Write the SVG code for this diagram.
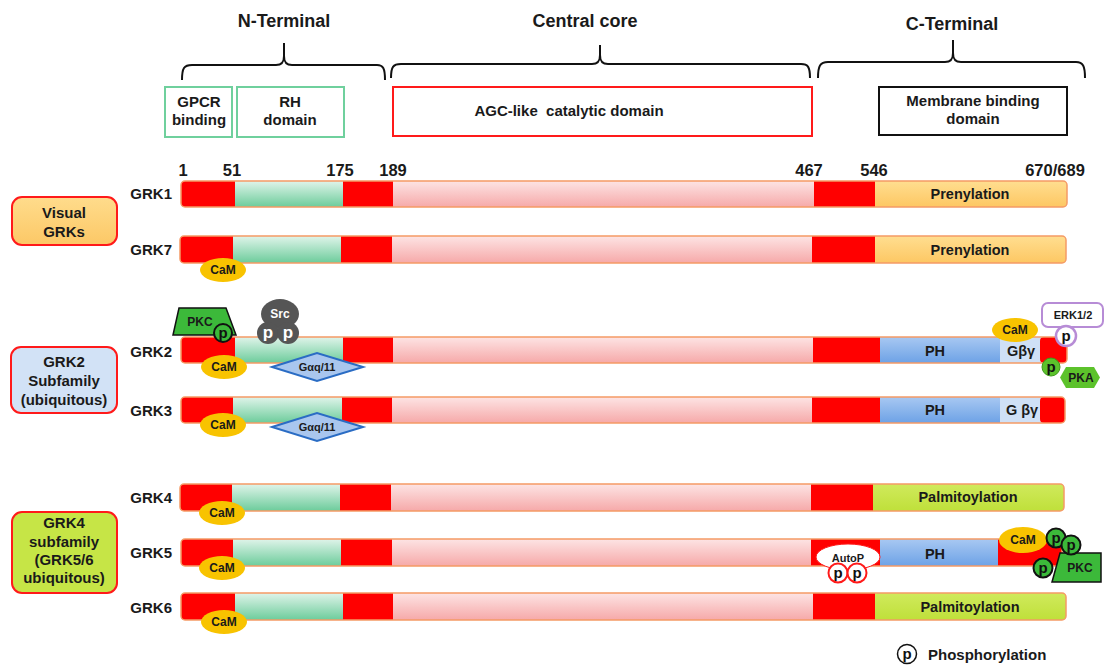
<svg xmlns="http://www.w3.org/2000/svg" width="1104" height="665" viewBox="0 0 1104 665">
<defs>
<linearGradient id="gPink" x1="0" y1="0" x2="0" y2="1"><stop offset="0" stop-color="#fde4e4"/><stop offset="1" stop-color="#f6a9a9"/></linearGradient>
<linearGradient id="gGreen" x1="0" y1="0" x2="0" y2="1"><stop offset="0" stop-color="#e0f4ea"/><stop offset="1" stop-color="#6ccc9b"/></linearGradient>
<linearGradient id="gYellow" x1="0" y1="0" x2="0" y2="1"><stop offset="0" stop-color="#ffde90"/><stop offset="1" stop-color="#fdc763"/></linearGradient>
<linearGradient id="gLime" x1="0" y1="0" x2="0" y2="1"><stop offset="0" stop-color="#d0ea5c"/><stop offset="1" stop-color="#bfe03a"/></linearGradient>
<linearGradient id="gPH" x1="0" y1="0" x2="0" y2="1"><stop offset="0" stop-color="#a8c8f2"/><stop offset="1" stop-color="#6da2e6"/></linearGradient>
<linearGradient id="gVis" x1="0" y1="0" x2="0" y2="1"><stop offset="0" stop-color="#ffdc8c"/><stop offset="1" stop-color="#fcc866"/></linearGradient>
<style>
text{font-family:"Liberation Sans",Arial,sans-serif;font-weight:bold;fill:#1a1a1a}
.hdr{font-size:18px;text-anchor:middle}
.num{font-size:16.5px;text-anchor:middle}
.box2{font-size:15px;text-anchor:middle}
.lbl{font-size:15px;text-anchor:end}
.fam{font-size:15px;text-anchor:middle}
.seg{font-size:14.5px;text-anchor:middle}
.sm{font-size:12px;text-anchor:middle}
.brace{fill:none;stroke:#111;stroke-width:2}
.red{fill:#ff0000}
.pink{fill:url(#gPink)}
.grn{fill:url(#gGreen)}
.yel{fill:url(#gYellow)}
.lime{fill:url(#gLime)}
.ph{fill:url(#gPH)}
.gbg{fill:#cfe0f6}
.outl{fill:none;stroke:#f59b66;stroke-width:1.5}
.cam{fill:#f8c300}
.pg{fill:#3cb93a;stroke:#111;stroke-width:2}
.pt{font-size:15px;text-anchor:middle;fill:#111}
.famb{stroke:#ff1a1a;stroke-width:2}
</style>
</defs>
<rect width="1104" height="665" fill="#fff"/>

<g id="headers">
<text class="hdr" x="284" y="27">N-Terminal</text>
<text class="hdr" x="585" y="27">Central core</text>
<text class="hdr" x="952" y="30">C-Terminal</text>
</g>

<g id="connectors">
<path class="brace" d="M182,80 C182,68 184,65 192,65 L276,65 C282,65 284,62 284,56 L284,43 M284,56 C284,62 286,65 292,65 L377,65 C383,65 385,68 385,80"/>
<path class="brace" d="M391,78 C391,67 393,64 401,64 L592,64 C598,64 600,61 600,55 L600,45 M600,55 C600,61 602,64 608,64 L801,64 C808,64 810,67 810,78"/>
<path class="brace" d="M818,78 C818,66 820,62 828,62 L945,62 C951,62 953,59 953,53 L953,40 M953,53 C953,59 955,62 961,62 L1076,62 C1083,62 1085,66 1085,78"/>
</g>

<g id="domain-boxes">
<g id="gpcr-box"><rect x="165" y="87" width="67" height="50" fill="#fff" stroke="#6fd09d" stroke-width="2"/><text class="box2" x="199" y="107">GPCR</text><text class="box2" x="199" y="125">binding</text></g>
<g id="rh-box"><rect x="237" y="87" width="107" height="50" fill="#fff" stroke="#6fd09d" stroke-width="2"/><text class="box2" x="290" y="107">RH</text><text class="box2" x="290" y="125">domain</text></g>
<g id="agc-box"><rect x="393" y="87" width="419" height="49" fill="#fff" stroke="#ff1a1a" stroke-width="2"/><text class="box2" x="569" y="116" xml:space="preserve">AGC-like  catalytic domain</text></g>
<g id="mem-box"><rect x="879" y="87" width="188" height="48" fill="#fff" stroke="#111" stroke-width="2"/><text class="box2" x="973" y="106">Membrane binding</text><text class="box2" x="973" y="124">domain</text></g>
</g>

<g id="numbers">
<text class="num" x="183" y="176">1</text>
<text class="num" x="232" y="176">51</text>
<text class="num" x="340" y="176">175</text>
<text class="num" x="393" y="176">189</text>
<text class="num" x="809" y="176">467</text>
<text class="num" x="874" y="176">546</text>
<text class="num" x="1055" y="176">670/689</text>
</g>

<g id="family-visual"><rect class="famb" x="12" y="197" width="105" height="48" rx="10" fill="url(#gVis)"/><text class="fam" x="64" y="218">Visual</text><text class="fam" x="64" y="237">GRKs</text></g>
<g id="family-grk2"><rect class="famb" x="11" y="347" width="106" height="66" rx="10" fill="#d2e2f6"/><text class="fam" x="64" y="367">GRK2</text><text class="fam" x="64" y="386">Subfamily</text><text class="fam" x="64" y="405">(ubiquitous)</text></g>
<g id="family-grk4"><rect class="famb" x="12" y="512" width="105" height="81" rx="10" fill="#c6e546"/><text class="fam" x="64" y="528">GRK4</text><text class="fam" x="64" y="547">subfamily</text><text class="fam" x="64" y="565">(GRK5/6</text><text class="fam" x="64" y="583">ubiquitous)</text></g>

<g id="grk1">
<text class="lbl" x="172" y="199">GRK1</text>
<rect class="red" x="181" y="181" width="60" height="26" rx="4"/>
<rect class="grn" x="235" y="181" width="108" height="26"/>
<rect class="red" x="343" y="181" width="50" height="26"/>
<rect class="pink" x="393" y="181" width="421" height="26"/>
<rect class="red" x="814" y="181" width="61" height="26"/>
<rect class="yel" x="875" y="181" width="192" height="26" rx="4"/>
<rect class="yel" x="875" y="181" width="20" height="26"/>
<rect class="outl" x="181" y="181" width="886" height="26" rx="4"/>
<text class="seg" x="970" y="199">Prenylation</text>
</g>

<g id="grk7">
<text class="lbl" x="172" y="255">GRK7</text>
<rect class="red" x="180" y="236" width="60" height="27" rx="4"/>
<rect class="grn" x="233" y="236" width="108" height="27"/>
<rect class="red" x="341" y="236" width="51" height="27"/>
<rect class="pink" x="392" y="236" width="420" height="27"/>
<rect class="red" x="812" y="236" width="63" height="27"/>
<rect class="yel" x="875" y="236" width="191" height="27" rx="4"/>
<rect class="yel" x="875" y="236" width="20" height="27"/>
<rect class="outl" x="180" y="236" width="886" height="27" rx="4"/>
<text class="seg" x="970" y="255">Prenylation</text>
<ellipse class="cam" cx="223" cy="270" rx="23" ry="12"/>
<text class="sm" x="223" y="274">CaM</text>
</g>

<g id="grk2">
<text class="lbl" x="172" y="357">GRK2</text>
<rect class="red" x="181" y="337" width="60" height="26" rx="4"/>
<rect class="grn" x="235" y="337" width="108" height="26"/>
<rect class="red" x="343" y="337" width="50" height="26"/>
<rect class="pink" x="393" y="337" width="420" height="26"/>
<rect class="red" x="813" y="337" width="67" height="26"/>
<rect class="ph" x="880" y="337" width="120" height="26"/>
<rect class="gbg" x="1000" y="337" width="47" height="26"/>
<rect class="red" x="1040" y="337" width="27" height="26" rx="4"/>
<rect class="red" x="1047" y="337" width="8" height="26"/>
<rect class="outl" x="181" y="337" width="886" height="26" rx="4"/>
<text class="seg" x="935" y="356">PH</text>
<text class="seg" x="1021" y="356">Gβγ</text>
</g>

<g id="grk3">
<text class="lbl" x="172" y="416">GRK3</text>
<rect class="red" x="181" y="397" width="60" height="26" rx="4"/>
<rect class="grn" x="233" y="397" width="109" height="26"/>
<rect class="red" x="342" y="397" width="50" height="26"/>
<rect class="pink" x="392" y="397" width="420" height="26"/>
<rect class="red" x="812" y="397" width="68" height="26"/>
<rect class="ph" x="880" y="397" width="120" height="26"/>
<rect class="gbg" x="1000" y="397" width="46" height="26"/>
<rect class="red" x="1040" y="397" width="25" height="26" rx="4"/>
<rect class="red" x="1046" y="397" width="8" height="26"/>
<rect class="outl" x="181" y="397" width="884" height="26" rx="4"/>
<text class="seg" x="935" y="415">PH</text>
<text class="seg" x="1022" y="415">G βγ</text>
</g>

<g id="grk4">
<text class="lbl" x="172" y="503">GRK4</text>
<rect class="red" x="180" y="484" width="60" height="27" rx="4"/>
<rect class="grn" x="232" y="484" width="108" height="27"/>
<rect class="red" x="340" y="484" width="51" height="27"/>
<rect class="pink" x="391" y="484" width="420" height="27"/>
<rect class="red" x="811" y="484" width="62" height="27"/>
<rect class="lime" x="873" y="484" width="191" height="27" rx="4"/>
<rect class="lime" x="873" y="484" width="20" height="27"/>
<rect class="outl" x="180" y="484" width="884" height="27" rx="4"/>
<text class="seg" x="968" y="502">Palmitoylation</text>
<ellipse class="cam" cx="222" cy="513" rx="23" ry="12"/>
<text class="sm" x="222" y="517">CaM</text>
</g>

<g id="grk5">
<text class="lbl" x="172" y="558">GRK5</text>
<rect class="red" x="181" y="539" width="60" height="27" rx="4"/>
<rect class="grn" x="233" y="539" width="108" height="27"/>
<rect class="red" x="341" y="539" width="51" height="27"/>
<rect class="pink" x="392" y="539" width="419" height="27"/>
<rect class="red" x="811" y="539" width="69" height="27"/>
<rect class="ph" x="880" y="539" width="118" height="27"/>
<rect class="red" x="998" y="539" width="64" height="27" rx="4"/>
<rect class="red" x="998" y="539" width="10" height="27"/>
<rect class="outl" x="181" y="539" width="881" height="27" rx="4"/>
<text class="seg" x="935" y="559">PH</text>
<ellipse class="cam" cx="222" cy="568" rx="23" ry="12"/>
<text class="sm" x="222" y="572">CaM</text>
</g>

<g id="grk6">
<text class="lbl" x="172" y="613">GRK6</text>
<rect class="red" x="181" y="593" width="60" height="27" rx="4"/>
<rect class="grn" x="235" y="593" width="108" height="27"/>
<rect class="red" x="343" y="593" width="50" height="27"/>
<rect class="pink" x="393" y="593" width="420" height="27"/>
<rect class="red" x="813" y="593" width="62" height="27"/>
<rect class="lime" x="875" y="593" width="191" height="27" rx="4"/>
<rect class="lime" x="875" y="593" width="20" height="27"/>
<rect class="outl" x="181" y="593" width="885" height="27" rx="4"/>
<text class="seg" x="970" y="612">Palmitoylation</text>
<ellipse class="cam" cx="224" cy="622" rx="23" ry="12"/>
<text class="sm" x="224" y="626">CaM</text>
</g>

<g id="grk2-annotations">
<g id="grk2-pkc">
<polygon points="179,308 226,308 236,335 173,335" fill="#3cb93a" stroke="#111" stroke-width="1.5"/>
<text class="sm" x="200" y="326">PKC</text>
<circle class="pg" cx="223" cy="333" r="9"/>
<text class="pt" x="223" y="338">p</text>
</g>
<g id="grk2-src">
<ellipse cx="280" cy="314" rx="19" ry="15" fill="#555"/>
<circle cx="268" cy="333" r="11" fill="#555"/>
<circle cx="288" cy="333" r="11" fill="#555"/>
<text class="sm" x="280" y="318" style="fill:#fff">Src</text>
<text class="pt" x="268" y="338" style="fill:#fff;font-size:17px">p</text>
<text class="pt" x="288" y="338" style="fill:#fff;font-size:17px">p</text>
</g>
<g id="grk2-cam">
<ellipse class="cam" cx="224" cy="367" rx="23" ry="12"/>
<text class="sm" x="224" y="371">CaM</text>
</g>
<g id="grk2-gaq">
<polygon points="272,367 317,353 363,367 317,381" fill="#a9c6ee" stroke="#2a6cc4" stroke-width="2"/>
<text class="sm" x="317" y="371" style="font-size:11px">Gαq/11</text>
</g>
<g id="grk2-cam-c">
<ellipse class="cam" cx="1015" cy="330" rx="23" ry="12"/>
<text class="sm" x="1015" y="334">CaM</text>
</g>
<g id="grk2-erk">
<rect x="1042" y="303" width="61" height="24" rx="6" fill="#fff" stroke="#b78cd6" stroke-width="2"/>
<text class="sm" x="1073" y="319" style="font-size:11px">ERK1/2</text>
<circle cx="1066" cy="336" r="10" fill="#fff" stroke="#b78cd6" stroke-width="2.5"/>
<text class="pt" x="1066" y="341">p</text>
</g>
<g id="grk2-pka">
<polygon points="1066,367 1094,367 1100,377.5 1094,388 1066,388 1060,377.5" fill="#5cc22b"/>
<circle cx="1051" cy="367" r="9" fill="#5cc22b" stroke="#3d9a1a" stroke-width="1"/>
<text class="pt" x="1051" y="372">p</text>
<text class="sm" x="1081" y="382">PKA</text>
</g>
</g>

<g id="grk3-annotations">
<ellipse class="cam" cx="223" cy="425" rx="23" ry="12"/>
<text class="sm" x="223" y="429">CaM</text>
<polygon points="272,427 317,413 363,427 317,441" fill="#a9c6ee" stroke="#2a6cc4" stroke-width="2"/>
<text class="sm" x="317" y="431" style="font-size:11px">Gαq/11</text>
</g>

<g id="grk5-annotations">
<g id="grk5-autop">
<ellipse cx="848" cy="557" rx="32" ry="13" fill="#fff" stroke="#ff1a1a" stroke-width="1"/>
<text class="sm" x="848" y="562" style="font-size:11px">AutoP</text>
<circle cx="838" cy="573" r="9.5" fill="#fff" stroke="#ff1a1a" stroke-width="2"/>
<circle cx="857" cy="573" r="9.5" fill="#fff" stroke="#ff1a1a" stroke-width="2"/>
<text class="pt" x="838" y="578">p</text>
<text class="pt" x="857" y="578">p</text>
</g>
<g id="grk5-cam">
<ellipse class="cam" cx="1023" cy="540" rx="24" ry="13"/>
<text class="sm" x="1023" y="544">CaM</text>
</g>
<g id="grk5-pkc">
<polygon points="1060,553 1101,553 1101,582 1052,582" fill="#3cb93a" stroke="#111" stroke-width="1.5"/>
<text class="sm" x="1080" y="572">PKC</text>
<circle class="pg" cx="1056" cy="538" r="9.5"/>
<text class="pt" x="1056" y="543">p</text>
<circle class="pg" cx="1071" cy="545" r="9.5"/>
<text class="pt" x="1071" y="550">p</text>
<circle class="pg" cx="1043" cy="568" r="9.5"/>
<text class="pt" x="1043" y="573">p</text>
</g>
</g>

<g id="legend">
<circle cx="907" cy="654" r="9.5" fill="#fff" stroke="#111" stroke-width="1.5"/>
<text class="pt" x="907" y="659">p</text>
<text x="928" y="660" style="font-size:15px">Phosphorylation</text>
</g>
</svg>
